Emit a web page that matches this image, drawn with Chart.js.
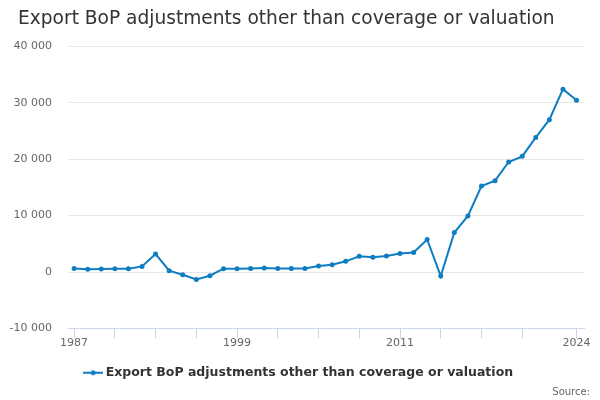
<!DOCTYPE html>
<html lang="en">
<head>
    <meta charset="UTF-8">
    <title>Export BoP adjustments other than coverage or valuation</title>
    <script src="https://cdn.jsdelivr.net/npm/chart.js"></script>
    <style>
        html, body { margin: 0; padding: 0; background: #fff; }
        #wrap { width: 600px; height: 400px; }
    </style>
</head>
<body>
<div id="wrap"><canvas id="bopChart"></canvas></div>
<script>
    // years on the x axis
    const years = [
        1987, 1988, 1989, 1990, 1991, 1992, 1993, 1994, 1995, 1996,
        1997, 1998, 1999, 2000, 2001, 2002, 2003, 2004, 2005, 2006,
        2007, 2008, 2009, 2010, 2011, 2012, 2013, 2014, 2015, 2016,
        2017, 2018, 2019, 2020, 2021, 2022, 2023, 2024
    ];

    // values
    const adjustments = [
        650, 480, 530, 590, 590, 1000, 3200, 240, -480, -1300,
        -650, 590, 590, 650, 700, 650, 650, 650, 1070, 1310,
        1900, 2800, 2620, 2860, 3270, 3450, 5770, -710, 7000, 9950,
        15250, 16200, 19500, 20500, 23850, 27000, 32400, 30450
    ];

    const xTicks = [1987, 1990, 1993, 1996, 1999, 2002, 2005, 2008, 2011, 2014, 2017, 2020, 2024];
    const xLabels = [1987, 1999, 2011, 2024];
    const yTicks = [-10000, 0, 10000, 20000, 30000, 40000];

    const seriesName = "Export BoP adjustments other than coverage or valuation";
    const blue = "#0f7dc2";
    const font = "'DejaVu Sans', sans-serif";

    // legend symbol : line with a dot
    function legendSymbol() {
        const c = document.createElement("canvas");
        c.width = 20; c.height = 8;
        const ctx = c.getContext("2d");
        ctx.strokeStyle = blue;
        ctx.lineWidth = 2;
        ctx.beginPath();
        ctx.moveTo(0, 4);
        ctx.lineTo(20, 4);
        ctx.stroke();
        ctx.fillStyle = blue;
        ctx.beginPath();
        ctx.arc(10, 4, 2.5, 0, Math.PI * 2);
        ctx.fill();
        return c;
    }

    function formatNumber(v) {
        const s = Math.abs(v).toString().replace(/\B(?=(\d{3})+(?!\d))/g, " ");
        return (v < 0 ? "-" : "") + s;
    }

    new Chart(document.getElementById("bopChart"), {
        type: "line",
        data: {
            datasets: [{
                label: seriesName,
                data: years.map((y, i) => ({ x: y, y: adjustments[i] })),
                borderColor: blue,
                backgroundColor: blue,
                borderWidth: 2,
                pointRadius: 2.5,
                pointBackgroundColor: blue,
                pointBorderWidth: 0,
                pointStyle: "circle",
                tension: 0,
                fill: false
            }]
        },
        options: {
            responsive: true,
            maintainAspectRatio: false,
            animation: false,
            layout: { padding: { left: 10, right: 10, top: 0, bottom: 0 } },
            plugins: {
                title: {
                    display: true,
                    // trailing spaces nudge the centred title a bit to the left
                    text: "Export BoP adjustments other than coverage or valuation\u00a0\u00a0\u00a0\u00a0\u2009",
                    color: "#333333",
                    font: { family: font, size: 18.6, weight: "normal" },
                    padding: { top: 8, bottom: 16 }
                },
                legend: {
                    position: "bottom",
                    labels: {
                        usePointStyle: true,
                        color: "#333333",
                        font: { family: font, size: 12.5, weight: "bold" },
                        padding: 7,
                        generateLabels: () => [{
                            text: seriesName,
                            pointStyle: legendSymbol(),
                            fontColor: "#333333",
                            strokeStyle: blue,
                            fillStyle: blue,
                            datasetIndex: 0
                        }]
                    }
                },
                subtitle: {
                    display: true,
                    position: "bottom",
                    align: "end",
                    text: "Source:",
                    color: "#666666",
                    font: { family: font, size: 10, weight: "normal" },
                    padding: { top: -2.5, bottom: 1.5 }
                },
                tooltip: { enabled: false }
            },
            scales: {
                x: {
                    type: "linear",
                    min: 1986.55,
                    max: 2024.55,
                    afterBuildTicks: (axis) => {
                        axis.ticks = xTicks.map(v => ({ value: v }));
                    },
                    afterFit: (axis) => { axis.height = 31; },
                    grid: {
                        drawOnChartArea: false,
                        drawTicks: true,
                        tickLength: 10,
                        tickColor: "#ccd6eb"
                    },
                    border: { display: true, color: "#ccd6eb", width: 1 },
                    ticks: {
                        autoSkip: false,
                        maxRotation: 0,
                        padding: -2,
                        color: "#666666",
                        font: { family: font, size: 11 },
                        callback: (v) => xLabels.includes(v) ? String(v) : ""
                    }
                },
                y: {
                    min: -10000,
                    max: 40000,
                    afterBuildTicks: (axis) => {
                        axis.ticks = yTicks.map(v => ({ value: v }));
                    },
                    afterFit: (axis) => { axis.width = 58; },
                    grid: {
                        color: "#e6e6e6",
                        drawTicks: false
                    },
                    border: { display: false },
                    ticks: {
                        padding: 16,
                        color: "#666666",
                        font: { family: font, size: 11 },
                        callback: (v) => formatNumber(v)
                    }
                },
                // empty right margin keeping the plot off the right edge
                yRight: {
                    position: "right",
                    min: 0,
                    max: 1,
                    afterFit: (axis) => { axis.width = 6; },
                    grid: { display: false },
                    border: { display: false },
                    ticks: { display: false }
                }
            }
        }
    });
</script>
</body>
</html>
